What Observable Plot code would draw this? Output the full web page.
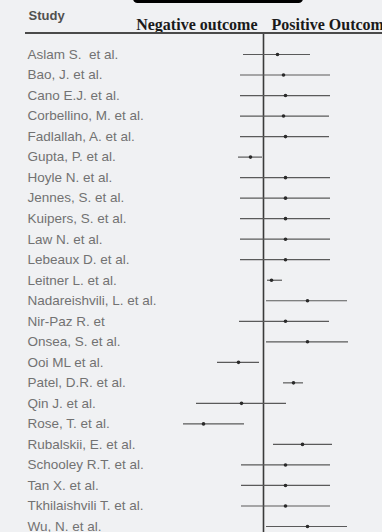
<!DOCTYPE html>
<html>
<head>
<meta charset="utf-8">
<script src="https://cdn.jsdelivr.net/npm/d3@7"></script>
<script src="https://cdn.jsdelivr.net/npm/@observablehq/plot@0.6"></script>
<style>
  html, body { margin: 0; padding: 0; background: #f0f1f3; overflow: hidden; }
  #wrap { position: relative; width: 382px; height: 532px; overflow: hidden; }
  #topbar { position: absolute; left: 133px; top: -6px; width: 170px; height: 9px; background: #000; border-radius: 5px; }
  #hline { position: absolute; left: 25px; top: 32px; width: 357px; height: 2px; background: #4a4a4a; }
  svg { overflow: visible; display: block; }
</style>
</head>
<body>
<div id="wrap">
  <div id="chart"></div>
  <div id="topbar"></div>
  <div id="hline"></div>
</div>
<script>
const studies = [
  "Aslam S.  et al.", "Bao, J. et al.", "Cano E.J. et al.", "Corbellino, M. et al.",
  "Fadlallah, A. et al.", "Gupta, P. et al.", "Hoyle N. et al.", "Jennes, S. et al.",
  "Kuipers, S. et al.", "Law N. et al.", "Lebeaux D. et al.", "Leitner L. et al.",
  "Nadareishvili, L. et al.", "Nir-Paz R. et", "Onsea, S. et al.", "Ooi ML et al.",
  "Patel, D.R. et al.", "Qin J. et al.", "Rose, T. et al.", "Rubalskii, E. et al.",
  "Schooley R.T. et al.", "Tan X. et al.", "Tkhilaishvili T. et al.", "Wu, N. et al."
];
const estimate = [0.7, 1.0, 1.1, 1.0, 1.1, -0.65, 1.1, 1.1, 1.1, 1.1, 1.1, 0.4,
  2.2, 1.1, 2.2, -1.25, 1.5, -1.1, -3.0, 1.95, 1.1, 1.1, 1.1, 2.2];
const lower = [-1.0, -1.15, -1.15, -1.15, -1.15, -1.25, -1.15, -1.15, -1.15, -1.15, -1.15, 0.2,
  0.15, -1.2, 0.15, -2.3, 1.0, -3.35, -4.0, 0.5, -1.1, -1.1, -1.1, 0.15];
const upper = [2.35, 3.35, 3.35, 3.3, 3.3, -0.05, 3.35, 3.35, 3.35, 3.35, 3.35, 0.95,
  4.2, 3.3, 4.25, -0.2, 2.0, 1.15, -0.95, 3.45, 3.35, 3.35, 3.35, 4.2];
const headers = [
  {x: 0, text: "Negative outcome", side: "neg"},
  {x: 0, text: "Positive Outcome", side: "pos"}
];

const rows = studies.map((s, i) => ({study: s, est: estimate[i], lo: lower[i], hi: upper[i]}));

const chart = Plot.plot({
  width: 382,
  height: 532,
  marginTop: 54,
  marginBottom: 6,
  marginLeft: 0,
  marginRight: 0,
  style: {background: "transparent", overflow: "visible"},
  x: {domain: [-13.15, 5.95], axis: null},
  y: {type: "point", domain: studies, padding: 0, round: false, axis: null},
  marks: [
    Plot.ruleX([0], {stroke: "#3a3a3a", strokeWidth: 1.6, insetTop: -21, insetBottom: -6}),
    Plot.ruleY(rows, {y: "study", x1: "lo", x2: "hi", stroke: "#5a5a5a", strokeWidth: 1.2}),
    Plot.dot(rows, {y: "study", x: "est", r: 1.8, fill: "#2a2a2a", stroke: "none"}),
    Plot.text(rows, {
      y: "study", text: "study", frameAnchor: "left", dx: 27, textAnchor: "start",
      fill: "#727272", fontSize: 13.5, fontFamily: "Liberation Sans, Arial, sans-serif",
      style: {letterSpacing: "1px"}
    }),
    Plot.text(["Study"], {
      text: d => d, frameAnchor: "top-left", dx: 28, dy: -44, textAnchor: "start",
      fill: "#505050", fontSize: 13, fontWeight: "bold", fontFamily: "Liberation Sans, Arial, sans-serif"
    }),
    Plot.text(headers.filter(d => d.side === "neg"), {
      x: "x", text: "text", frameAnchor: "top", dy: -36, dx: -6, textAnchor: "end",
      fill: "#1a1a1a", fontSize: 16, fontWeight: "bold", fontFamily: "Liberation Serif, Times New Roman, serif",
      style: {letterSpacing: "0.7px"}
    }),
    Plot.text(headers.filter(d => d.side === "pos"), {
      x: "x", text: "text", frameAnchor: "top", dy: -36, dx: 8, textAnchor: "start",
      fill: "#1a1a1a", fontSize: 16, fontWeight: "bold", fontFamily: "Liberation Serif, Times New Roman, serif",
      style: {letterSpacing: "0.7px"}
    })
  ]
});
document.getElementById("chart").appendChild(chart);
</script>
</body>
</html>
